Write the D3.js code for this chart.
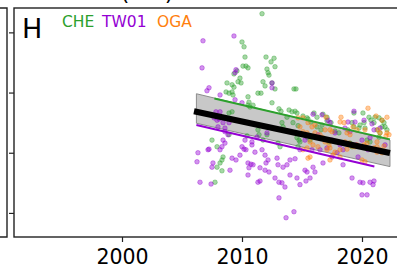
<!DOCTYPE html>
<html>
<head>
<meta charset="utf-8">
<script src="https://cdn.jsdelivr.net/npm/d3@7"></script>
<style>
  body { margin: 0; background: #fff; }
  text { font-family: "DejaVu Sans", sans-serif; }
</style>
</head>
<body>
<script>
var width = 397;
var height = 266;

// series: [year, value]
var cheData = [
  [2011.67, 3.31], [2010.0, 2.84], [2010.17, 2.76], [2010.25, 2.59], [2010.08, 2.44], [2010.33, 2.44],
  [2010.5, 2.41], [2009.58, 2.36], [2009.33, 2.31], [2009.83, 2.24], [2009.67, 2.18], [2009.92, 2.16],
  [2008.75, 2.16], [2009.17, 2.13], [2009.33, 2.09], [2009.17, 2.01], [2008.92, 1.99], [2008.67, 2.01],
  [2009.25, 1.96], [2010.5, 1.93], [2010.58, 1.84], [2011.33, 1.99], [2012.0, 2.59], [2012.42, 2.51],
  [2012.67, 2.57], [2012.75, 2.43], [2012.08, 2.39], [2012.17, 2.33], [2012.25, 2.29], [2011.75, 2.18],
  [2011.92, 2.11], [2012.5, 2.16], [2012.75, 2.06], [2011.58, 1.99], [2014.33, 2.06], [2014.5, 2.06],
  [2012.5, 1.83], [2013.08, 1.73], [2013.25, 1.69], [2013.92, 1.71], [2014.17, 1.68], [2014.42, 1.69],
  [2014.58, 1.66], [2013.75, 1.59], [2015.08, 1.61], [2015.42, 1.58], [2016.0, 1.66], [2016.25, 1.59],
  [2015.5, 1.56], [2015.75, 1.51], [2016.75, 1.64], [2017.08, 1.59], [2020.08, 1.66], [2019.33, 1.66],
  [2020.58, 1.59], [2020.75, 1.54], [2021.08, 1.59], [2021.42, 1.58], [2021.67, 1.54], [2021.83, 1.50],
  [2021.92, 1.43], [2022.08, 1.38], [2021.67, 1.43], [2021.0, 1.50], [2019.83, 1.46], [2020.17, 1.50],
  [2020.25, 1.41], [2019.75, 1.41], [2021.25, 1.38], [2021.5, 1.33], [2021.42, 1.26], [2019.17, 1.50],
  [2019.33, 1.43], [2017.75, 1.36], [2018.08, 1.33], [2017.25, 1.18], [2020.42, 1.21], [2020.67, 1.18],
  [2017.08, 1.53], [2017.42, 1.50], [2016.67, 1.46], [2018.83, 1.38], [2016.25, 1.43], [2016.58, 1.38],
  [2010.5, 1.79], [2010.67, 1.76], [2008.92, 1.66], [2009.17, 1.68], [2010.92, 1.79], [2011.33, 1.38],
  [2011.42, 1.30], [2010.42, 1.28], [2008.92, 1.30], [2007.5, 1.21], [2007.92, 1.10], [2008.42, 0.93],
  [2008.33, 0.88], [2008.17, 0.83], [2007.92, 0.76], [2008.33, 0.70], [2007.75, 0.51], [2013.33, 1.50],
  [2013.42, 1.43], [2014.25, 1.50], [2014.67, 1.45], [2015.42, 1.26], [2015.67, 1.21], [2014.75, 1.21],
  [2012.08, 1.30], [2011.75, 1.21], [2013.0, 1.16], [2013.17, 1.10], [2014.67, 1.10], [2014.58, 1.25],
  [2014.83, 1.18], [2019.0, 1.16], [2019.17, 1.10]
];

var tw01Data = [
  [2006.75, 2.86], [2009.33, 2.94], [2006.67, 2.41], [2009.5, 2.38], [2009.42, 2.33], [2012.5, 2.16],
  [2012.5, 2.08], [2007.08, 2.03], [2007.25, 2.08], [2008.17, 1.96], [2010.0, 1.83], [2009.42, 1.88],
  [2007.83, 1.68], [2007.67, 1.58], [2007.92, 1.54], [2008.17, 1.68], [2008.08, 1.56], [2008.42, 1.50],
  [2008.92, 1.50], [2008.58, 1.41], [2008.0, 1.43], [2008.58, 1.35], [2008.83, 1.30], [2010.25, 1.21],
  [2010.83, 1.18], [2011.25, 1.26], [2012.08, 1.33], [2008.42, 1.21], [2008.58, 1.16], [2008.33, 1.10],
  [2010.0, 1.10], [2010.17, 1.06], [2010.33, 1.05], [2008.17, 1.05], [2007.17, 1.05], [2010.83, 1.13],
  [2006.33, 1.00], [2006.25, 0.85], [2007.25, 1.06], [2007.58, 0.83], [2007.5, 0.76], [2006.5, 0.51],
  [2007.42, 0.48], [2010.5, 0.83], [2010.75, 0.81], [2010.58, 0.75], [2010.92, 0.80], [2011.5, 0.75],
  [2011.92, 0.71], [2012.25, 0.68], [2010.5, 0.63], [2011.33, 0.51], [2011.5, 0.53], [2011.92, 0.96],
  [2012.17, 0.88], [2012.0, 0.83], [2012.92, 0.91], [2013.0, 0.80], [2013.42, 0.76], [2013.75, 0.80],
  [2014.0, 0.88], [2014.42, 0.90], [2013.08, 0.51], [2013.33, 0.50], [2013.58, 0.43], [2013.08, 0.25],
  [2014.33, 0.02], [2013.67, -0.08], [2015.33, 0.53], [2015.25, 0.71], [2015.42, 0.68], [2015.92, 0.76],
  [2016.08, 0.68], [2016.75, 0.83], [2017.5, 0.93], [2017.92, 1.00], [2018.42, 1.05], [2018.42, 0.80],
  [2019.17, 0.58], [2019.83, 0.51], [2020.08, 0.50], [2020.67, 0.51], [2020.92, 0.47], [2021.0, 0.53],
  [2020.0, 0.30], [2020.42, 0.30], [2014.0, 0.63], [2014.58, 0.58], [2014.83, 0.47], [2015.67, 0.58],
  [2012.75, 0.58], [2011.67, 1.05], [2011.08, 1.01], [2009.17, 0.91], [2009.5, 0.88], [2009.83, 0.96],
  [2009.0, 0.71], [2016.5, 1.05], [2017.08, 1.08], [2016.67, 1.63], [2017.17, 1.54], [2017.33, 1.50],
  [2019.33, 1.69], [2016.33, 1.30], [2017.5, 1.21], [2018.58, 1.41], [2019.0, 1.35], [2019.5, 1.13],
  [2020.0, 1.21], [2020.67, 1.25], [2021.0, 1.38], [2021.5, 1.41], [2021.92, 1.13], [2020.5, 1.05],
  [2019.67, 0.93], [2018.17, 1.13], [2017.75, 1.33], [2015.83, 1.05], [2014.83, 1.05], [2015.25, 1.21],
  [2020.17, 1.54], [2020.83, 1.48], [2019.42, 1.51], [2015.92, 1.64], [2018.83, 1.51]
];

var ogaData = [
  [2020.5, 1.74], [2021.17, 1.61], [2018.25, 1.59], [2018.17, 1.51], [2018.5, 1.50], [2017.33, 1.38],
  [2017.5, 1.35], [2018.75, 1.33], [2019.0, 1.30], [2022.08, 1.33], [2022.25, 1.30], [2022.0, 1.28],
  [2017.25, 1.13], [2017.33, 1.08], [2018.58, 1.18], [2018.92, 1.16], [2019.17, 1.11], [2019.42, 1.10],
  [2021.0, 1.08], [2021.25, 1.10], [2021.5, 1.05], [2018.17, 1.05], [2017.75, 1.01], [2020.17, 1.13],
  [2015.08, 1.58], [2015.5, 1.50], [2015.83, 1.43], [2016.08, 1.46], [2014.83, 1.43], [2015.08, 1.35],
  [2015.42, 1.33], [2016.08, 1.33], [2016.5, 1.30], [2016.75, 1.25], [2015.67, 1.18], [2015.92, 1.13],
  [2016.33, 1.10], [2016.92, 1.18], [2017.08, 1.05], [2015.08, 1.05], [2015.42, 1.08], [2015.67, 0.93],
  [2015.5, 0.91], [2017.58, 0.96], [2018.17, 0.93], [2020.0, 0.88], [2020.25, 0.85], [2021.25, 1.18],
  [2021.83, 1.11], [2021.67, 1.00], [2021.25, 1.01], [2022.08, 1.59], [2018.75, 1.06], [2019.58, 1.13],
  [2017.33, 0.88], [2020.42, 1.16], [2021.33, 1.38], [2021.5, 1.33], [2020.25, 1.38], [2014.67, 1.58],
  [2017.0, 1.59], [2021.67, 1.54], [2019.25, 1.43], [2019.58, 1.38], [2016.92, 1.38]
];

// fitted lines: [startYear, startValue, endYear, endValue]
var allFit = [2006.0, 1.69, 2022.33, 0.995];
var cheFit = [2007.7, 1.90, 2022.33, 1.222];
var tw01Fit = [2006.2, 1.46, 2021.03, 0.77];
// confidence band
var bandYears = [2006.2, 2022.33];
var bandLow = [1.49, 0.77];
var bandHigh = [1.98, 1.21];

var xTicks = [2000, 2010, 2020];
var yTicks = [0, 1, 2, 3];
var legendNames = ["CHE", "TW01", "OGA"];
var colors = ["#2ca02c", "#9400d3", "#ff7f0e"];

var x = d3.scaleLinear().domain([1991, 2024]).range([14, 410]);
var y = d3.scaleLinear().domain([-0.4, 3.405]).range([237, 8]);

var svg = d3.select("body").append("svg")
    .attr("width", width)
    .attr("height", height);

// neighbour panel edge
svg.append("path")
    .attr("d", "M-5,8H7V237H-5")
    .attr("fill", "none")
    .attr("stroke", "#222")
    .attr("stroke-width", 1.4);

// cut-off title
svg.append("text")
    .attr("x", 147)
    .attr("y", 0)
    .attr("text-anchor", "middle")
    .style("font-size", "22px")
    .text("(nm)");

// band
var bandArea = d3.area()
    .x(function (d) { return x(d[0]); })
    .y0(function (d) { return y(d[1]); })
    .y1(function (d) { return y(d[2]); });
svg.append("path")
    .datum(bandYears.map(function (yr, i) { return [yr, bandLow[i], bandHigh[i]]; }))
    .attr("d", bandArea)
    .attr("fill", "#c8c8c8")
    .attr("stroke", "#8c8c8c")
    .attr("stroke-width", 1);

// points
[cheData, tw01Data, ogaData].forEach(function (data, k) {
  svg.append("g").selectAll("circle")
      .data(data)
    .enter().append("circle")
      .attr("cx", function (d) { return x(d[0]); })
      .attr("cy", function (d) { return y(d[1]); })
      .attr("r", 2.3)
      .attr("fill", colors[k])
      .attr("fill-opacity", 0.42)
      .attr("stroke", colors[k])
      .attr("stroke-opacity", 0.42)
      .attr("stroke-width", 0.9);
});

// fit lines
var fits = [[cheFit, colors[0], 2], [tw01Fit, colors[1], 2], [allFit, "#000", 6]];
fits.forEach(function (f) {
  var p = f[0];
  svg.append("line")
      .attr("x1", x(p[0])).attr("y1", y(p[1]))
      .attr("x2", x(p[2])).attr("y2", y(p[3]))
      .attr("stroke", f[1])
      .attr("stroke-width", f[2]);
});

// axes
var xAxis = svg.append("g")
    .attr("transform", "translate(0,237)")
    .call(d3.axisBottom(x).tickValues(xTicks).tickFormat(d3.format("d"))
      .tickSize(5).tickSizeOuter(0).tickPadding(7));
xAxis.select(".domain").remove();
xAxis.selectAll("line").attr("stroke", "#222").attr("stroke-width", 1.2);
xAxis.selectAll("text").style("font-size", "20.5px").attr("fill", "#000")
    .style("font-family", "DejaVu Sans, sans-serif");

var yAxis = svg.append("g")
    .attr("transform", "translate(14,0)")
    .call(d3.axisLeft(y).tickValues(yTicks).tickFormat("").tickSize(5).tickSizeOuter(0));
yAxis.select(".domain").remove();
yAxis.selectAll("line").attr("stroke", "#222").attr("stroke-width", 1.2);

// frame
svg.append("rect")
    .attr("x", 14).attr("y", 8)
    .attr("width", 420).attr("height", 229)
    .attr("fill", "none")
    .attr("stroke", "#222")
    .attr("stroke-width", 1.4);

// legend
svg.append("text")
    .attr("x", 22).attr("y", 38)
    .style("font-size", "27px")
    .text("H");

var legendX = [62, 102, 157];
legendNames.forEach(function (name, i) {
  svg.append("text")
      .attr("x", legendX[i]).attr("y", 27)
      .attr("fill", colors[i])
      .style("font-size", "15.5px")
      .text(name);
});
</script>
</body>
</html>
